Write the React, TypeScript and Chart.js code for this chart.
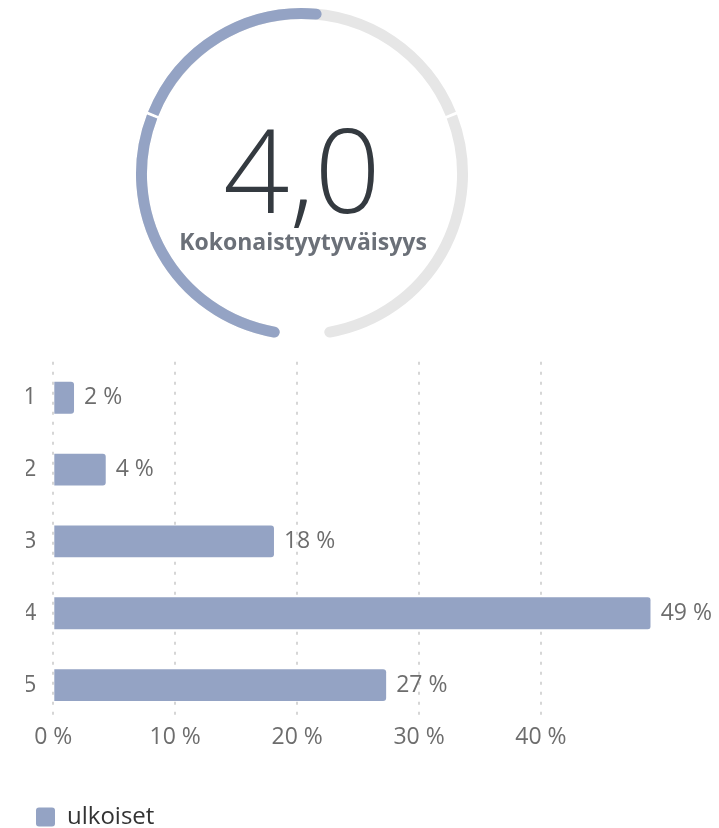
import React, { useEffect, useRef } from "react";
import { Chart, registerables } from "chart.js";

Chart.register(...registerables);

// ---- data ----
const categories = ["1", "2", "3", "4", "5"];
const shares = [1.7, 4.3, 18.1, 49.0, 27.3];
const shareLabels = ["2 %", "4 %", "18 %", "49 %", "27 %"];
const xTickValues = [0, 10, 20, 30, 40];
const seriesName = "ulkoiset";
const gaugeValueText = "4,0";
const gaugeTitle = "Kokonaistyytyväisyys";
// gauge arcs (degrees, clockwise, starting at 188° from top)
const gaugeTrack = [103, 1, 136, 1, 103, 16];
const gaugeFill = [103, 1, 75, 181];

const BLUE = "#94a3c4";
const TRACK = "#e6e6e6";
const CLEAR = "rgba(0,0,0,0)";
const FONT = "'Open Sans', 'Noto Sans', sans-serif";

function makeGauge(canvas: HTMLCanvasElement, data: number[], colors: string[], startIdx: number, endIdx: number) {
  const cap = 5.5;
  return new Chart(canvas, {
    type: "doughnut",
    data: {
      labels: data.map((_, i) => String(i)),
      datasets: [
        {
          data,
          backgroundColor: colors,
          borderWidth: 0,
          hoverOffset: 0,
          borderRadius: (ctx: any) => {
            const i = ctx.dataIndex;
            if (i === startIdx) return { outerStart: cap, innerStart: cap, outerEnd: 0, innerEnd: 0 };
            if (i === endIdx) return { outerStart: 0, innerStart: 0, outerEnd: cap, innerEnd: cap };
            return 0;
          },
        } as any,
      ],
    },
    options: {
      responsive: false,
      animation: false,
      events: [],
      rotation: 188,
      circumference: 360,
      radius: 166,
      cutout: "93.4%",
      spacing: 0,
      layout: { padding: 0 },
      plugins: { legend: { display: false }, tooltip: { enabled: false } },
    } as any,
  });
}

function Gauge() {
  const trackRef = useRef<HTMLCanvasElement>(null);
  const fillRef = useRef<HTMLCanvasElement>(null);
  useEffect(() => {
    const trackColors = gaugeTrack.map((_, i) => (i % 2 === 0 && i < 5 ? TRACK : CLEAR));
    const fillColors = gaugeFill.map((_, i) => (i === 0 || i === 2 ? BLUE : CLEAR));
    const a = makeGauge(trackRef.current!, gaugeTrack, trackColors, 0, 4);
    const b = makeGauge(fillRef.current!, gaugeFill, fillColors, 0, 2);
    return () => {
      a.destroy();
      b.destroy();
    };
  }, []);
  const canvasStyle: React.CSSProperties = { position: "absolute", left: 132, top: 4, display: "block" };
  return (
    <>
      <canvas ref={trackRef} width={340} height={340} style={canvasStyle} />
      <canvas ref={fillRef} width={340} height={340} style={canvasStyle} />
      <div
        style={{
          position: "absolute",
          left: 302,
          top: 110,
          transform: "translateX(-50%)",
          fontFamily: FONT,
          fontWeight: 300,
          fontSize: 116,
          lineHeight: 1,
          color: "#343a40",
          whiteSpace: "nowrap",
        }}
      >
        {gaugeValueText}
      </div>
      <div
        style={{
          position: "absolute",
          left: 303,
          top: 230,
          transform: "translateX(-50%)",
          fontFamily: FONT,
          fontWeight: 700,
          fontSize: 23,
          lineHeight: 1,
          color: "#6b7078",
          whiteSpace: "nowrap",
        }}
      >
        {gaugeTitle}
      </div>
    </>
  );
}

function Bars() {
  const ref = useRef<HTMLCanvasElement>(null);
  useEffect(() => {
    const valueLabels = {
      id: "valueLabels",
      afterDatasetsDraw(chart: any) {
        const ctx = chart.ctx;
        const meta = chart.getDatasetMeta(0);
        ctx.save();
        ctx.font = `23px ${FONT}`;
        ctx.fillStyle = "#6d6d6d";
        ctx.textAlign = "left";
        ctx.textBaseline = "middle";
        meta.data.forEach((bar: any, i: number) => {
          ctx.fillText(shareLabels[i], bar.x + 10, bar.y);
        });
        ctx.restore();
      },
    };
    const chart = new Chart(ref.current!, {
      type: "bar",
      data: {
        labels: categories,
        datasets: [
          {
            label: seriesName,
            data: shares,
            backgroundColor: BLUE,
            borderWidth: 0,
            borderRadius: 3,
            barPercentage: 0.443,
            categoryPercentage: 1,
          },
        ],
      },
      options: {
        indexAxis: "y",
        responsive: false,
        animation: false,
        events: [],
        layout: { padding: { top: 10, right: 68.3, left: 0, bottom: 0 } },
        font: { family: FONT },
        scales: {
          x: {
            min: 0,
            max: Math.max(...shares),
            afterBuildTicks: (axis: any) => {
              axis.ticks = xTickValues.map((v) => ({ value: v }));
            },
            afterFit: (s: any) => {
              s.height = 74;
            },
            ticks: {
              padding: 3,
              color: "#6d6d6d",
              font: { family: FONT, size: 23 },
              callback: (v: any) => `${v} %`,
            },
            grid: { color: "#d6d6d6", lineWidth: 2, drawTicks: false },
            border: { display: false, dash: [3, 7] },
          },
          y: {
            afterFit: (s: any) => {
              s.width = 27.3;
            },
            ticks: {
              padding: 17,
              color: "#6d6d6d",
              font: { family: FONT, size: 23 },
            },
            grid: { display: false, drawTicks: false },
            border: { display: false },
          },
        },
        plugins: {
          tooltip: { enabled: false },
          legend: {
            position: "bottom",
            align: "start",
            labels: {
              boxWidth: 19,
              boxHeight: 19,
              useBorderRadius: true,
              borderRadius: 3,
              padding: 10,
              color: "#333333",
              font: { family: FONT, size: 24 },
            },
          },
        },
      } as any,
      plugins: [valueLabels],
    });
    return () => chart.destroy();
  }, []);
  return (
    <canvas
      ref={ref}
      width={693}
      height={508}
      style={{ position: "absolute", left: 26, top: 331, display: "block" }}
    />
  );
}

export default function App() {
  return (
    <div
      style={{
        position: "absolute",
        left: 0,
        top: 0,
        width: 719,
        height: 828,
        overflow: "hidden",
        background: "#ffffff",
      }}
    >
      <Gauge />
      <Bars />
    </div>
  );
}
